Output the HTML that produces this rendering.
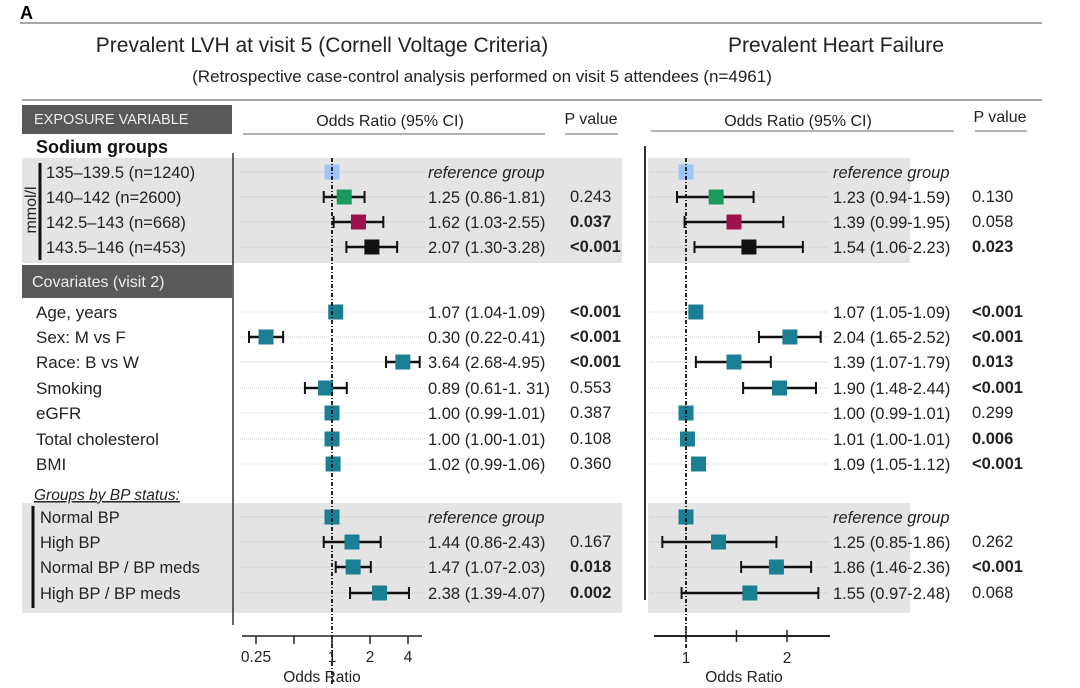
<!DOCTYPE html>
<html><head><meta charset="utf-8">
<style>
html,body{margin:0;padding:0;background:#fff;}
svg{display:block;font-family:"Liberation Sans",Arial,sans-serif;}
</style></head>
<body>
<svg id="chart" width="1080" height="688" viewBox="0 0 1080 688">
<g>
<text x="20" y="19" font-size="18" font-weight="bold">A</text>
<line x1="20" y1="23" x2="1042" y2="23" stroke="#888" stroke-width="1.5"/>
<text x="322" y="52" font-size="21" text-anchor="middle" fill="#222">Prevalent LVH at visit 5 (Cornell Voltage Criteria)</text>
<text x="836" y="52" font-size="21" text-anchor="middle" fill="#222">Prevalent Heart Failure</text>
<text x="482" y="82" font-size="17" text-anchor="middle" fill="#222">(Retrospective case-control analysis performed on visit 5 attendees (n=4961)</text>
<line x1="22" y1="100" x2="1042" y2="100" stroke="#888" stroke-width="1.5"/>
</g>
<g id="bands"></g>
<g>
<rect x="22" y="105" width="210" height="29" fill="#595959"/>
<text x="34" y="124" font-size="14.5" fill="#eee">EXPOSURE VARIABLE</text>
<text x="390" y="126" font-size="16" text-anchor="middle" fill="#222">Odds Ratio (95% CI)</text>
<line x1="243" y1="134" x2="545" y2="134" stroke="#999" stroke-width="1.5"/>
<text x="591" y="124" font-size="16" text-anchor="middle" fill="#222">P value</text>
<line x1="565" y1="134" x2="618" y2="134" stroke="#999" stroke-width="1.5"/>
<text x="798" y="126" font-size="16" text-anchor="middle" fill="#222">Odds Ratio (95% CI)</text>
<line x1="651" y1="131" x2="954" y2="131" stroke="#999" stroke-width="1.5"/>
<text x="1000" y="122" font-size="16" text-anchor="middle" fill="#222">P value</text>
<line x1="975" y1="131" x2="1027" y2="131" stroke="#999" stroke-width="1.5"/>
<text x="36" y="153" font-size="18" font-weight="bold" fill="#111">Sodium groups</text>
<rect x="22" y="265" width="210" height="33" fill="#595959"/>
<text x="32" y="287" font-size="16" fill="#eee">Covariates (visit 2)</text>
<text x="34" y="500" font-size="15.5" font-style="italic" fill="#222" text-decoration="underline">Groups by BP status:</text>
<text transform="translate(36,210) rotate(-90)" font-size="16" text-anchor="middle" fill="#222">mmol/l</text>
<line x1="40" y1="163" x2="40" y2="260" stroke="#111" stroke-width="3"/>
<line x1="33" y1="506" x2="33" y2="608" stroke="#111" stroke-width="3"/>
<line x1="233" y1="153" x2="233" y2="625" stroke="#333" stroke-width="1.5"/>
<line x1="645" y1="146" x2="645" y2="600" stroke="#333" stroke-width="2"/>
</g>
<g id="rows"></g>
<g id="axes"></g>
</svg>
<script>
const labels = ["135–139.5 (n=1240)","140–142 (n=2600)","142.5–143 (n=668)","143.5–146 (n=453)","Age, years","Sex: M vs F","Race: B vs W","Smoking","eGFR","Total cholesterol","BMI","Normal BP","High BP","Normal BP / BP meds","High BP / BP meds"];
const lvhEst = [1,1.25,1.62,2.07,1.07,0.30,3.64,0.89,1.00,1.00,1.02,1,1.44,1.47,2.38];
const lvhLo  = [null,0.86,1.03,1.30,1.04,0.22,2.68,0.61,0.99,1.00,0.99,null,0.86,1.07,1.39];
const lvhHi  = [null,1.81,2.55,3.28,1.09,0.41,4.95,1.31,1.01,1.01,1.06,null,2.43,2.03,4.07];
const lvhOR  = ["reference group","1.25 (0.86-1.81)","1.62 (1.03-2.55)","2.07 (1.30-3.28)","1.07 (1.04-1.09)","0.30 (0.22-0.41)","3.64 (2.68-4.95)","0.89 (0.61-1. 31)","1.00 (0.99-1.01)","1.00 (1.00-1.01)","1.02 (0.99-1.06)","reference group","1.44 (0.86-2.43)","1.47 (1.07-2.03)","2.38 (1.39-4.07)"];
const lvhP   = ["","0.243","0.037","<0.001","<0.001","<0.001","<0.001","0.553","0.387","0.108","0.360","","0.167","0.018","0.002"];
const hfEst = [1,1.23,1.39,1.54,1.07,2.04,1.39,1.90,1.00,1.01,1.09,1,1.25,1.86,1.55];
const hfLo  = [null,0.94,0.99,1.06,1.05,1.65,1.07,1.48,0.99,1.00,1.05,null,0.85,1.46,0.97];
const hfHi  = [null,1.59,1.95,2.23,1.09,2.52,1.79,2.44,1.01,1.01,1.12,null,1.86,2.36,2.48];
const hfOR  = ["reference group","1.23 (0.94-1.59)","1.39 (0.99-1.95)","1.54 (1.06-2.23)","1.07 (1.05-1.09)","2.04 (1.65-2.52)","1.39 (1.07-1.79)","1.90 (1.48-2.44)","1.00 (0.99-1.01)","1.01 (1.00-1.01)","1.09 (1.05-1.12)","reference group","1.25 (0.85-1.86)","1.86 (1.46-2.36)","1.55 (0.97-2.48)"];
const hfP   = ["","0.130","0.058","0.023","<0.001","<0.001","0.013","<0.001","0.299","0.006","<0.001","","0.262","<0.001","0.068"];
const pBold = [0.05];
const lvhTicks = [0.25,0.5,1,2,4];
const lvhTickLabels = ["0.25","","1","2","4"];
const hfTicks = [1,1.414,2];
const hfTickLabels = ["1","","2"];

const NS="http://www.w3.org/2000/svg";
const rowY = i => [172,197,222,247,312,337,362,388,413,439,464,517,542,567,593][i];
const xL = v => 332 + Math.log2(v)*38;
const xR = v => 686 + Math.log2(v)*101;
const colors = ["#9ec5f5","#1a9a5c","#a0124e","#111111"];
const teal="#1a7f92";
function mk(tag,attrs,parent){const e=document.createElementNS(NS,tag);for(const k in attrs)e.setAttribute(k,attrs[k]);parent.appendChild(e);return e;}
const bands=document.getElementById('bands'), rows=document.getElementById('rows'), axes=document.getElementById('axes');
[[22,158,600,105],[648,158,262,105],[22,503,600,110],[648,503,262,110]].forEach(b=>{
  const r=mk('rect',{x:b[0],y:b[1],width:b[2],height:b[3],fill:'#e4e4e4'},bands);
  
  
});
function isBold(p){return p.startsWith('<')||(p!==''&&parseFloat(p)<pBold[0]);}
labels.forEach((lab,i)=>{
  const y=rowY(i);
  const g=mk('g',{},rows);
  
  
  const lx = i<4?46:(i>=11?40:36);
  const t=mk('text',{x:lx,y:y+6,'font-size':i<4||i>=11?16.5:17,fill:'#222'},g); t.textContent=lab;
  
  
  mk('line',{x1:240,y1:y,x2:425,y2:y,stroke:'#bbb','stroke-width':0.8,'stroke-dasharray':'1,1'},g);
  mk('line',{x1:650,y1:y,x2:830,y2:y,stroke:'#bbb','stroke-width':0.8,'stroke-dasharray':'1,1'},g);
  const col = i<4?colors[i]:teal;
  [[xL,lvhEst,lvhLo,lvhHi,lvhOR,lvhP,428,570,'lvh'],[xR,hfEst,hfLo,hfHi,hfOR,hfP,833,972,'hf']].forEach(s=>{
    const [fx,est,lo,hi,orT,pT,ox,px,nm]=s;
    if(lo[i]!==null){
      const w=mk('line',{x1:fx(lo[i]),y1:y,x2:fx(hi[i]),y2:y,stroke:'#111','stroke-width':2.5},g);
      
      
      mk('line',{x1:fx(lo[i]),y1:y-6,x2:fx(lo[i]),y2:y+6,stroke:'#111','stroke-width':2},g);
      mk('line',{x1:fx(hi[i]),y1:y-6,x2:fx(hi[i]),y2:y+6,stroke:'#111','stroke-width':2},g);
    }
    const r=mk('rect',{x:fx(est[i])-7.5,y:y-7.5,width:15,height:15,fill:col},g);
    
    
    const o=mk('text',{x:ox,y:y+6,'font-size':16.5,fill:'#222','font-style':orT[i].startsWith('ref')?'italic':'normal'},g);
    o.textContent=orT[i];
    
    
    if(pT[i]){
      const p=mk('text',{x:px,y:y+5,'font-size':16.5,fill:'#222','font-weight':isBold(pT[i])?'bold':'normal'},g);
      p.textContent=pT[i];
      
      
    }
  });
});
const r1=mk('line',{x1:xL(1),y1:158,x2:xL(1),y2:686,stroke:'#111','stroke-width':1.8,'stroke-dasharray':'4,2,1,2'},axes);


const r2=mk('line',{x1:xR(1),y1:158,x2:xR(1),y2:650,stroke:'#111','stroke-width':1.8,'stroke-dasharray':'4,2,1,2'},axes);


const a1=mk('line',{x1:242,y1:636,x2:422,y2:636,stroke:'#222','stroke-width':1.5},axes);


lvhTicks.forEach((v,k)=>{
  mk('line',{x1:xL(v),y1:636,x2:xL(v),y2:644,stroke:'#222','stroke-width':1.5},axes);
  const t=mk('text',{x:xL(v),y:662,'font-size':15.5,'text-anchor':'middle',fill:'#222'},axes);
  t.textContent=lvhTickLabels[k];
  
  
});
const at1=mk('text',{x:322,y:682,'font-size':15.5,'text-anchor':'middle',fill:'#222'},axes);
at1.textContent='Odds Ratio';


const a2=mk('line',{x1:654,y1:636,x2:830,y2:636,stroke:'#222','stroke-width':2},axes);


hfTicks.forEach((v,k)=>{
  mk('line',{x1:xR(v),y1:630,x2:xR(v),y2:642,stroke:'#222','stroke-width':1.5},axes);
  const t=mk('text',{x:xR(v),y:663,'font-size':15.5,'text-anchor':'middle',fill:'#222'},axes);
  t.textContent=hfTickLabels[k];
  
  
});
const at2=mk('text',{x:744,y:682,'font-size':15.5,'text-anchor':'middle',fill:'#222'},axes);
at2.textContent='Odds Ratio';


</script>
</body></html>
